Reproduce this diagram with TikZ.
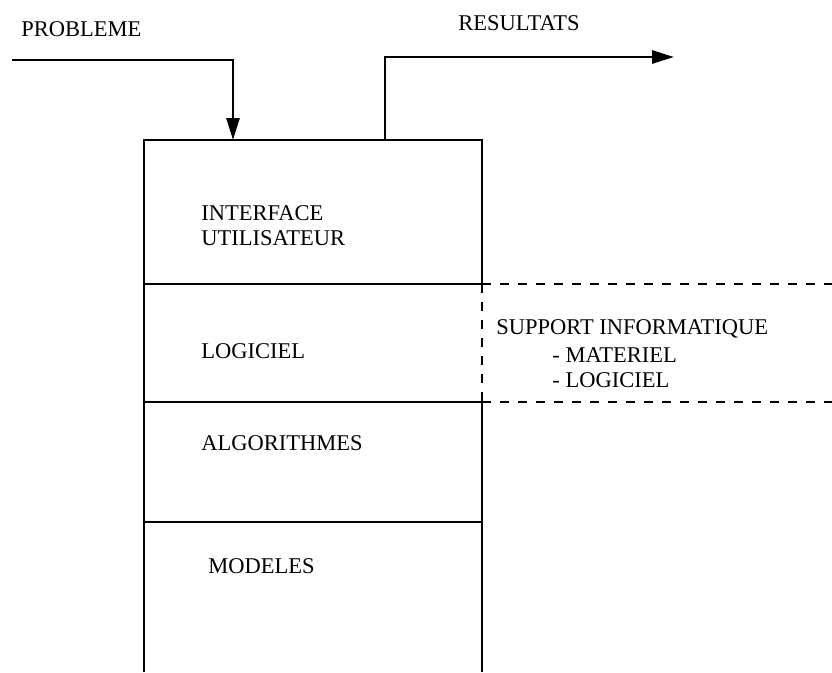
\documentclass[tikz,border=0pt]{standalone}
\usepackage{fontspec}
\setmainfont{Liberation Serif}
\usetikzlibrary{arrows.meta}
\begin{document}
\begin{tikzpicture}[x=1pt,y=-1pt, line width=2.8pt,
  lbl/.style={font=\fontsize{22.5}{26}\selectfont, inner sep=0pt, anchor=base west},
  arr/.style={-{Triangle[length=22pt,width=13pt]}},
  dsh/.style={dash pattern=on 9pt off 9pt, line width=2.5pt}]
\useasboundingbox (0,0) rectangle (832,672);
% box corners and dividers
\coordinate (bl) at (144,672);
\coordinate (tl) at (144,140);
\coordinate (tr) at (482,140);
\coordinate (r1) at (482,284);
\coordinate (r2) at (482,402);
\coordinate (br) at (482,672);
\coordinate (l1) at (144,284);
\coordinate (l2) at (144,402);
\coordinate (l3) at (144,522);
\coordinate (r3) at (482,522);
\draw (bl) -- (tl) -- (tr) -- (r1);
\draw (r2) -- (br);
\draw (l1) -- (r1);
\draw (l2) -- (r2);
\draw (l3) -- (r3);
% dashed support zone
\coordinate (d1) at (832,284);
\coordinate (d2) at (832,402);
\draw[dsh] (r1) -- (d1);
\draw[dsh] (r2) -- (d2);
\draw[dsh] (r1) -- (r2);
% input arrow
\coordinate (pin) at (12,60);
\coordinate (pbend) at (233,60);
\coordinate (pin2) at (233,140);
\draw[arr] (pin) -- (pbend) -- (pin2);
% output arrow
\coordinate (rout) at (385,140);
\coordinate (rbend) at (385,57);
\coordinate (rend) at (674,57);
\draw[arr] (rout) -- (rbend) -- (rend);
% labels
\node[lbl] (probleme) at (20,36) {PROBLEME};
\node[lbl] (resultats) at (457,30) {RESULTATS};
\node[lbl] (interface) at (200,220) {INTERFACE};
\node[lbl] (utilisateur) at (200,245) {UTILISATEUR};
\node[lbl] (logiciel) at (200,358) {LOGICIEL};
\node[lbl] (algo) at (200,450) {ALGORITHMES};
\node[lbl] (modeles) at (207,573) {MODELES};
\node[lbl] (support) at (495,334) {SUPPORT INFORMATIQUE};
\node[lbl] (materiel) at (551,362) {- MATERIEL};
\node[lbl] (logiciel2) at (551,387) {- LOGICIEL};
\end{tikzpicture}
\end{document}
